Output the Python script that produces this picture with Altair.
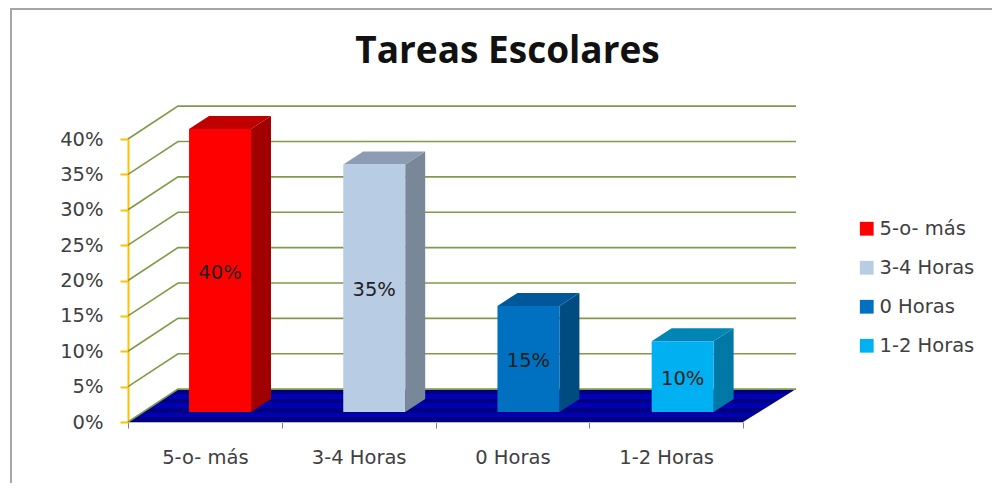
import altair as alt
import pandas as pd

categories = ["5-o- más", "3-4 Horas", "0 Horas", "1-2 Horas"]
values = [40, 35, 15, 10]
front_colors = ["#FF0000", "#B8CCE4", "#0070C0", "#00B0F0"]
top_colors = ["#C00000", "#8C9DB3", "#00589A", "#0085B5"]
side_colors = ["#A00000", "#798899", "#004C80", "#0078A5"]
y_ticks = [0, 5, 10, 15, 20, 25, 30, 35, 40]

# Depth of the 3-D box, in axis units
WALL_DX, WALL_DY, WALL_END = 0.325, 4.65, 4.345
BAR_START, BAR_PITCH, BAR_W, BAR_DX, BAR_DY, BAR_LIFT = 0.397, 1.003, 0.403, 0.13, 1.84, 1.41

FONT = "DejaVu Sans"
TEXT = "#404040"
FS = 19.5

bars, sides, tops = [], [], []
for i, (c, v) in enumerate(zip(categories, values)):
    l = BAR_START + BAR_PITCH * i
    r = l + BAR_W
    t = v + BAR_LIFT
    bars.append(dict(cat=c, value=v, l=l, r=r, b=BAR_LIFT, t=t, xm=(l + r) / 2, ym=(BAR_LIFT + t) / 2,
                     label=f"{v}%"))
    sides += [dict(x=r, y=t, y2=BAR_LIFT, col=side_colors[i]),
              dict(x=r + BAR_DX, y=t + BAR_DY, y2=BAR_LIFT + BAR_DY, col=side_colors[i])]
    tops += [dict(x=l, y=t, y2=t, col=top_colors[i]),
             dict(x=l + BAR_DX, y=t + BAR_DY, y2=t, col=top_colors[i]),
             dict(x=r, y=t + BAR_DY, y2=t, col=top_colors[i]),
             dict(x=r + BAR_DX, y=t + BAR_DY, y2=t + BAR_DY, col=top_colors[i])]

grid = []
for v in y_ticks:
    grid += [dict(x=0, y=v, g=v), dict(x=WALL_DX, y=v + WALL_DY, g=v), dict(x=WALL_END, y=v + WALL_DY, g=v)]

floor = pd.DataFrame([dict(x=0, y=0, y2=0), dict(x=WALL_DX, y=WALL_DY, y2=0),
                      dict(x=4, y=WALL_DY, y2=0), dict(x=WALL_END, y=WALL_DY, y2=WALL_DY)])

xq = alt.Scale(domain=[0, 4], nice=False, zero=False)
yq = alt.Scale(domain=[0, 40], nice=False)
X = alt.X("x:Q", scale=xq, axis=None)
y_axis = alt.Axis(values=y_ticks, labelExpr="datum.value + '%'", grid=False, domainColor="#FFC000",
                  domainWidth=2, tickColor="#FFC000", tickWidth=2, tickSize=8, labelPadding=17,
                  labelFont=FONT, labelFontSize=FS, labelColor=TEXT, title=None)


def Y(field):
    return alt.Y(field, scale=yq, axis=y_axis)


xaxis_layer = alt.Chart(pd.DataFrame(bars)).mark_bar(opacity=0).encode(
    x=alt.X("cat:N", sort=categories, title=None, scale=alt.Scale(paddingInner=0, paddingOuter=0),
            axis=alt.Axis(tickBand="extent", labelAngle=0, tickColor="#808080", domainColor="#BBBBBB", tickSize=6,
                          labelPadding=20, labelFont=FONT, labelFontSize=FS, labelColor=TEXT)),
    y=Y("value:Q"),
)

stripes = []
n = 7
for k in range(n):
    col = "#000080" if k % 2 == 0 else "#0000B4"
    stripes += [alt.GradientStop(offset=k / n, color=col), alt.GradientStop(offset=(k + 1) / n, color=col)]
floor_layer = alt.Chart(floor).mark_area(
    color=alt.Gradient(gradient="linear", x1=0, x2=0, y1=0, y2=1, stops=stripes)
).encode(x=X, y=Y("y:Q"), y2="y2:Q")

grid_layer = alt.Chart(pd.DataFrame(grid)).mark_line(color="#7F9A48", strokeWidth=1.6).encode(
    x=X, y=Y("y:Q"), detail="g:N")

side_layer = alt.Chart(pd.DataFrame(sides)).mark_area().encode(
    x=X, y=Y("y:Q"), y2="y2:Q", color=alt.Color("col:N", scale=None, legend=None))
top_layer = alt.Chart(pd.DataFrame(tops)).mark_area().encode(
    x=X, y=Y("y:Q"), y2="y2:Q", color=alt.Color("col:N", scale=None, legend=None))

front_layer = alt.Chart(pd.DataFrame(bars)).mark_rect().encode(
    x=alt.X("l:Q", scale=xq, axis=None), x2="r:Q",
    y=Y("b:Q"), y2="t:Q",
    color=alt.Color("cat:N", sort=categories, title=None,
                    scale=alt.Scale(domain=categories, range=front_colors),
                    legend=alt.Legend(orient="none", legendX=729, legendY=80, symbolType="square", symbolSize=190,
                                      symbolStrokeWidth=0, labelFont=FONT, labelFontSize=FS, labelColor=TEXT,
                                      labelOffset=3, rowPadding=18, labelLimit=200)),
)
label_layer = alt.Chart(pd.DataFrame(bars)).mark_text(font=FONT, fontSize=FS, color="#222222", dy=2).encode(
    x=alt.X("xm:Q", scale=xq, axis=None), y=Y("ym:Q"), text="label:N")

frame_left = alt.Chart(pd.DataFrame({"a": [0]})).mark_rule(color="#A6A6A6", strokeWidth=2).encode(
    x=alt.value(-117), y=alt.value(-130), y2=alt.value(352))
frame_top = alt.Chart(pd.DataFrame({"a": [0]})).mark_rule(color="#A6A6A6", strokeWidth=2).encode(
    x=alt.value(-118), x2=alt.value(872), y=alt.value(-130))

chart = alt.layer(
    xaxis_layer, floor_layer, grid_layer, side_layer, top_layer, front_layer, label_layer, frame_left, frame_top
).resolve_scale(x="independent", color="independent").properties(
    width=615, height=283,
    title=alt.TitleParams("Tareas Escolares", font="Open Sans", fontSize=37, fontWeight="bold", color="#111111",
                          anchor="middle", dx=72, offset=-63),
    autosize=alt.AutoSizeParams(type="none"),
    padding={"left": 120, "top": 131, "right": 249, "bottom": 61},
).configure_view(stroke=None)

chart.save("out.html", embed_options={"renderer": "svg", "actions": False})
